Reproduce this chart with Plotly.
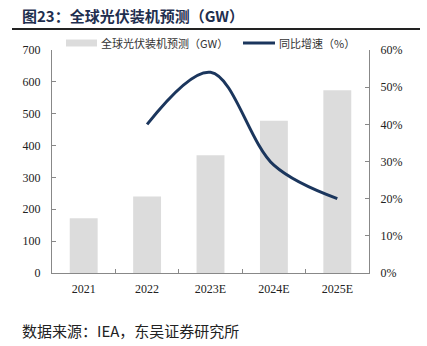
import plotly.graph_objects as go

categories = ["2021", "2022", "2023E", "2024E", "2025E"]
capacity_gw = [172, 240, 370, 478, 574]
growth_pct = [None, 0.40, 0.54, 0.29, 0.20]

bar_name = "全球光伏装机预测（GW）"
line_name = "同比增速（%）"

W, H = 427, 346
L, R, T, B = 52, 58, 50, 73
pw = W - L - R
ph = H - T - B

BAR_COLOR = "#dcdcdc"
LINE_COLOR = "#1b365d"

def px(x):
    return (x - L) / pw

def py(y):
    return (H - B - y) / ph

fig = go.Figure()
fig.add_trace(go.Bar(
    x=categories, y=capacity_gw, name=bar_name,
    marker=dict(color=BAR_COLOR, line=dict(width=0)), width=0.44, showlegend=False,
))
fig.add_trace(go.Scatter(
    x=categories, y=growth_pct, name=line_name, yaxis="y2", showlegend=False,
    mode="lines", line=dict(color=LINE_COLOR, width=3, shape="spline", smoothing=1.0),
))

axis_font = dict(family="Liberation Serif, Times New Roman, serif", size=12, color="#222")
leg_font = dict(family="Noto Sans CJK SC", size=11, color="#333")
fig.update_layout(
    width=W, height=H,
    margin=dict(l=L, r=R, t=T, b=B, pad=0),
    paper_bgcolor="white", plot_bgcolor="white",
    showlegend=False,
    xaxis=dict(showline=True, linecolor="#888", linewidth=1, ticks="inside", ticklen=4,
               tickcolor="#888", tickson="boundaries", tickfont=axis_font, showgrid=False,
               zeroline=False, ticklabelstandoff=5),
    yaxis=dict(range=[0, 700], dtick=100, showline=True, linecolor="#888", linewidth=1,
               ticks="inside", ticklen=4, tickcolor="#888", tickfont=axis_font,
               showgrid=False, zeroline=False, ticklabelstandoff=8),
    yaxis2=dict(range=[0, 0.6], dtick=0.1, tickformat=".0%", overlaying="y", side="right",
                showline=True, linecolor="#888", linewidth=1, ticks="inside", ticklen=4,
                tickcolor="#888", tickfont=axis_font, showgrid=False, zeroline=False,
                ticklabelstandoff=8),
    annotations=[
        dict(text="<b>图23：全球光伏装机预测（GW）</b>", xref="paper", yref="paper",
             x=px(20), y=py(15), xanchor="left", yanchor="middle", showarrow=False,
             font=dict(family="Noto Sans CJK SC", size=15, color="#1f2f4f")),
        dict(text="数据来源：IEA，东吴证券研究所", xref="paper", yref="paper",
             x=px(20), y=py(330), xanchor="left", yanchor="middle", showarrow=False,
             font=dict(family="Noto Sans CJK SC", size=15, color="#222")),
        dict(text=bar_name, xref="paper", yref="paper", x=px(99), y=py(43),
             xanchor="left", yanchor="middle", showarrow=False, font=leg_font),
        dict(text=line_name, xref="paper", yref="paper", x=px(277), y=py(43),
             xanchor="left", yanchor="middle", showarrow=False, font=leg_font),
    ],
    shapes=[
        dict(type="line", xref="paper", yref="paper", x0=px(12), x1=px(420),
             y0=py(29), y1=py(29), line=dict(color="#222", width=2)),
        dict(type="rect", xref="paper", yref="paper", x0=px(66), x1=px(97),
             y0=py(39.5), y1=py(46.5), fillcolor=BAR_COLOR, line=dict(width=0)),
        dict(type="line", xref="paper", yref="paper", x0=px(243), x1=px(275),
             y0=py(43), y1=py(43), line=dict(color=LINE_COLOR, width=3)),
    ],
)

fig.write_html("out.html")
